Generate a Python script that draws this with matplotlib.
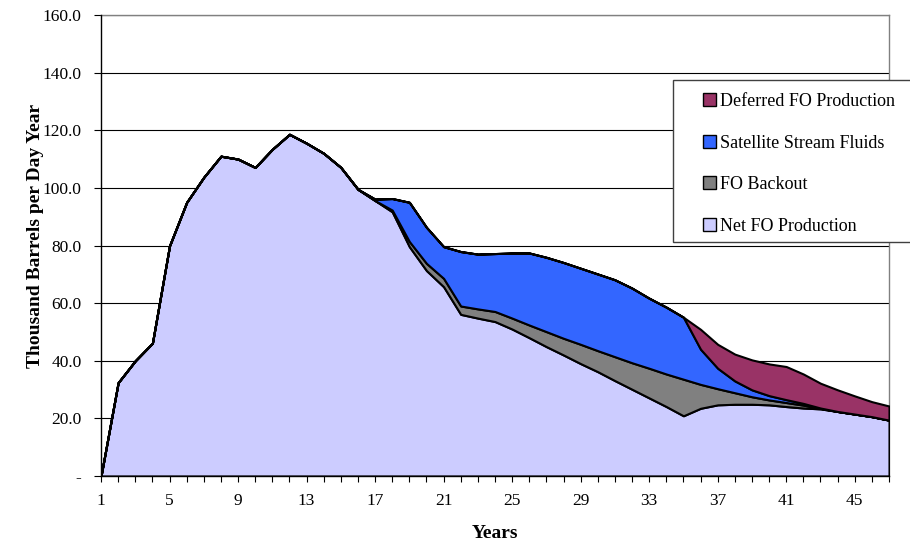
import matplotlib
matplotlib.use("Agg")
import matplotlib.pyplot as plt
from matplotlib.patches import Patch, Rectangle
from matplotlib.ticker import FuncFormatter

plt.rcParams['font.family'] = ['Liberation Serif', 'DejaVu Serif']

years = list(range(1, 48))
net_fo = [0.0, 32.4, 40.0, 46.1, 79.9, 95.0, 103.7, 111.0, 110.0, 107.1,
          113.4, 118.6, 115.5, 112.0, 107.1, 99.5, 95.6, 91.7, 79.6, 71.3,
          65.7, 56.1, 54.8, 53.6, 51.0, 48.0, 44.9, 42.0, 39.0, 36.2,
          33.1, 30.1, 27.1, 24.1, 20.9, 23.5, 24.7, 24.9, 24.9, 24.7,
          24.1, 23.6, 23.3, 22.4, 21.5, 20.6, 19.4]
fo_backout = [0]*17 + [0.6, 1.8, 2.5, 2.9, 2.9, 3.2, 3.5, 3.8, 4.4,
                       5.2, 5.8, 6.7, 7.3, 8.3, 9.2, 10.3, 11.3, 12.7,
                       8.3, 5.6, 4.0, 2.6, 1.7, 1.4, 1.0, 0.2, 0, 0, 0, 0]
satellite = [0]*16 + [0.5, 4.0, 13.6, 12.5, 11.0, 18.9, 19.0, 20.1, 22.6, 25.0,
                      25.8, 26.3, 26.4, 26.6, 26.7, 25.9, 24.3, 23.2, 21.5,
                      12.2, 7.1, 4.1, 2.4, 1.5, 1.0, 0.6, 0.1, 0, 0, 0, 0]
deferred = [0]*35 + [6.9, 8.3, 9.3, 10.4, 11.0, 11.5, 10.2, 8.6, 7.5, 6.3, 5.2, 4.9]

labels = ["Net FO Production", "FO Backout", "Satellite Stream Fluids", "Deferred FO Production"]
colors = ["#CCCCFF", "#808080", "#3366FF", "#993366"]
yticks = [0, 20, 40, 60, 80, 100, 120, 140, 160]
xlabel_years = list(range(1, 47, 4))

fig = plt.figure(figsize=(9.1, 5.43), dpi=100)
ax = fig.add_axes([101/910, 1-476/543, (889-101)/910, (476-15)/543])

ax.stackplot(years, net_fo, fo_backout, satellite, deferred,
             colors=colors, edgecolor='black', linewidth=1.5, zorder=3)

ax.set_xlim(1, 47)
ax.set_ylim(0, 160)
ax.set_yticks(yticks)
ax.yaxis.set_major_formatter(FuncFormatter(lambda v, p: '-' if v == 0 else f'{v:.1f}'))
ax.set_xticks(years)
ax.set_xticklabels([str(y) if y in xlabel_years else '' for y in years])
ax.tick_params(axis='both', direction='out', labelsize=12.5, colors='black', width=0.8)
ax.tick_params(axis='x', length=4, pad=8)
ax.tick_params(axis='y', length=5, pad=9)

ax.grid(axis='y', color='black', linewidth=0.8)
ax.set_axisbelow(True)
for s in ['top', 'right']:
    ax.spines[s].set_color('#808080')
    ax.spines[s].set_linewidth(1.0)
for s in ['left', 'bottom']:
    ax.spines[s].set_color('black')
    ax.spines[s].set_linewidth(1.0)
    ax.spines[s].set_zorder(4)

fig.text(495/910, 1-533/543, 'Years', ha='center', va='center', fontsize=14, fontweight='bold')
fig.text(36/910, 1-236/543, 'Thousand Barrels per Day Year', ha='center', va='center',
         rotation=90, fontsize=14, fontweight='bold')

# legend frame
frame = Rectangle((673/910, 1-242/543), (930-673)/910, 162/543, transform=fig.transFigure,
                  facecolor='white', edgecolor='#404040', linewidth=1.0, zorder=5)
fig.patches.append(frame)

handles = [Patch(facecolor=colors[i], edgecolor='black', linewidth=1.0, label=labels[i]) for i in [3, 2, 1, 0]]
leg = fig.legend(handles=handles, loc='upper left', bbox_to_anchor=(703/910, 1-93/543),
                 bbox_transform=fig.transFigure, frameon=False, fontsize=13,
                 handlelength=0.7, handleheight=0.7, handletextpad=0.25,
                 labelspacing=1.36, borderpad=0, borderaxespad=0)
leg.set_zorder(6)

fig.savefig('out.png', dpi=100)
